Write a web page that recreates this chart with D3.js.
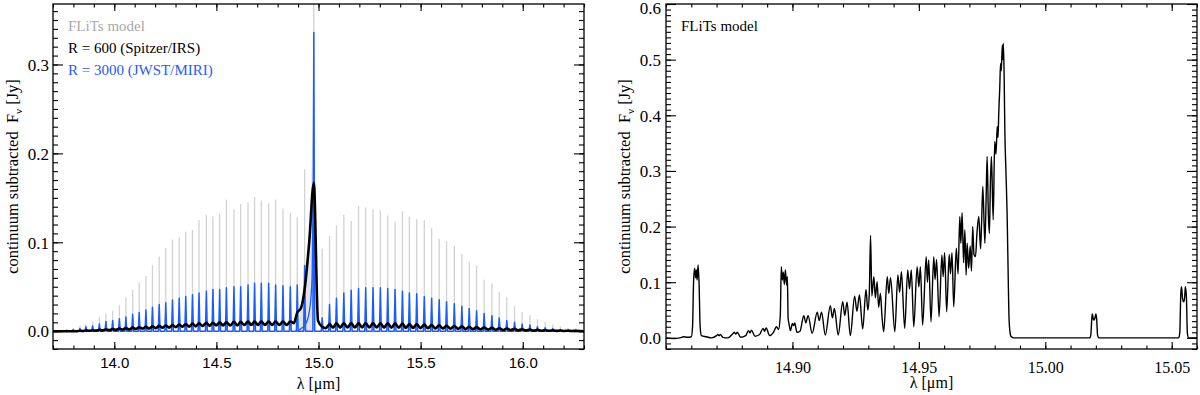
<!DOCTYPE html>
<html>
<head>
<meta charset="utf-8">
<script src="https://cdn.jsdelivr.net/npm/d3@7"></script>
<style>
  body { margin: 0; background: #fff; }
  svg { display: block; }
</style>
</head>
<body>
<svg id="fig" width="1200" height="395"></svg>
<script>
// ---- left panel: CO2 band, one entry per line (R branch, Q branch, P branch) ----
var lineWl = [
  13.734, 13.767, 13.799, 13.832, 13.861, 13.894, 13.927, 13.959, 13.992, 14.025,
  14.057, 14.090, 14.122, 14.155, 14.187, 14.220, 14.252, 14.285, 14.318, 14.350,
  14.383, 14.415, 14.451, 14.483, 14.516, 14.549, 14.586, 14.619, 14.655, 14.687,
  14.720, 14.756, 14.790, 14.826, 14.862, 14.896, 14.932,
  14.977,
  15.018, 15.054, 15.088, 15.124, 15.160, 15.196, 15.231, 15.267, 15.303, 15.339,
  15.375, 15.411, 15.445, 15.481, 15.518, 15.554, 15.591, 15.627, 15.665, 15.702,
  15.738, 15.774, 15.811, 15.849, 15.885, 15.922, 15.960, 15.997, 16.035, 16.072,
  16.110, 16.147, 16.184, 16.222, 16.260
];

// FLiTs model peak of each line (grey)
var modelPeak = [
  0.001, 0.002, 0.003, 0.006, 0.008, 0.011, 0.016, 0.020, 0.023, 0.029,
  0.038, 0.047, 0.055, 0.062, 0.074, 0.084, 0.094, 0.103, 0.106, 0.112,
  0.114, 0.125, 0.131, 0.129, 0.132, 0.148, 0.137, 0.143, 0.145, 0.151,
  0.147, 0.144, 0.148, 0.138, 0.133, 0.128, 0.182,
  0.400,
  0.093, 0.107, 0.119, 0.131, 0.124, 0.141, 0.139, 0.137, 0.136, 0.130,
  0.123, 0.135, 0.129, 0.126, 0.125, 0.116, 0.104, 0.101, 0.096, 0.087,
  0.078, 0.074, 0.058, 0.054, 0.044, 0.038, 0.028, 0.022, 0.018, 0.014,
  0.010, 0.0075, 0.0056, 0.004, 0.003
];

// R = 3000 (JWST/MIRI) peak of each line (blue)
var miriPeak = [
  0.000, 0.001, 0.002, 0.003, 0.005, 0.006, 0.008, 0.011, 0.012, 0.014,
  0.016, 0.019, 0.021, 0.024, 0.027, 0.030, 0.032, 0.035, 0.037, 0.039,
  0.041, 0.043, 0.045, 0.047, 0.047, 0.049, 0.050, 0.050, 0.052, 0.054,
  0.054, 0.054, 0.052, 0.051, 0.050, 0.052, 0.074,
  0.336,
  0.015, 0.030, 0.037, 0.043, 0.046, 0.048, 0.049, 0.049, 0.049, 0.048,
  0.047, 0.045, 0.043, 0.042, 0.039, 0.037, 0.0355, 0.033, 0.031, 0.028,
  0.0255, 0.023, 0.020, 0.0175, 0.015, 0.012, 0.010, 0.008, 0.007, 0.005,
  0.004, 0.003, 0.002, 0.0015, 0.001
];

// R = 600 (Spitzer/IRS) value at each line (black)
var irsPeak = [
  0, 0, 0, 0.0005, 0.0008, 0.001, 0.0015, 0.002, 0.0025, 0.003,
  0.0035, 0.004, 0.0045, 0.005, 0.0055, 0.006, 0.0065, 0.007, 0.0075, 0.008,
  0.0085, 0.009, 0.0095, 0.0095, 0.010, 0.010, 0.0105, 0.0105, 0.011, 0.011,
  0.011, 0.011, 0.011, 0.011, 0.011, 0.021, 0.047,
  0.167,
  0.005, 0.008, 0.009, 0.009, 0.0092, 0.0092, 0.0092, 0.0092, 0.009, 0.009,
  0.0088, 0.0085, 0.0082, 0.008, 0.0075, 0.007, 0.0066, 0.0062, 0.0058, 0.0054,
  0.005, 0.0046, 0.0042, 0.0038, 0.0034, 0.003, 0.0026, 0.0022, 0.0018, 0.0015,
  0.0012, 0.001, 0.0008, 0.0006, 0.0005
];

// R = 600 value half way between a line and the next one
var irsDip = [
  0, 0, 0, 0.0003, 0.0005, 0.0007, 0.001, 0.0012, 0.0015, 0.0018,
  0.002, 0.0025, 0.003, 0.003, 0.0035, 0.004, 0.004, 0.0045, 0.005, 0.005,
  0.0055, 0.006, 0.006, 0.0065, 0.0065, 0.0065, 0.0065, 0.007, 0.007, 0.007,
  0.007, 0.007, 0.007, 0.007, 0.009, 0.026, 0.100,
  0.012,
  0.0035, 0.004, 0.004, 0.0042, 0.0042, 0.0042, 0.0042, 0.0042, 0.004, 0.004,
  0.004, 0.0038, 0.0036, 0.0035, 0.0033, 0.0031, 0.003, 0.0028, 0.0026, 0.0024,
  0.0022, 0.002, 0.0018, 0.0016, 0.0014, 0.0012, 0.001, 0.0008, 0.0007, 0.0006,
  0.0005, 0.0004, 0.0003, 0.0002
];

// blended Q-branch lines of the model (grey shading)
var modelQBand = [
  [14.900, 0.000], [14.908, 0.024], [14.920, 0.032], [14.932, 0.047], [14.940, 0.060],
  [14.948, 0.083], [14.956, 0.110], [14.962, 0.140], [14.967, 0.190], [14.971, 0.230],
  [14.974, 0.300], [14.976, 0.370], [14.978, 0.370], [14.980, 0.120], [14.982, 0.000]
];

// rising MIRI continuum under the Q branch
var miriQWing = [
  [14.895, 0.000], [14.915, 0.003], [14.930, 0.006], [14.945, 0.012], [14.955, 0.022],
  [14.963, 0.038], [14.969, 0.065], [14.974, 0.160]
];

// ---- right panel: FLiTs model around the Q branch, [wavelength, flux] ----
var flitsZoom = [
  [14.8500, 0.000], [14.8530, -0.001], [14.8555, 0.000], [14.8570, 0.002], [14.8585, 0.001],
  [14.8600, 0.002], [14.8605, 0.020], [14.8609, 0.100], [14.8613, 0.125], [14.8617, 0.108],
  [14.8620, 0.122], [14.8623, 0.104], [14.8627, 0.131], [14.8631, 0.095], [14.8635, 0.020],
  [14.8640, 0.004], [14.8660, 0.002], [14.8680, 0.000], [14.8700, 0.004], [14.8705, 0.006],
  [14.8710, 0.004], [14.8715, 0.006], [14.8725, 0.001], [14.8745, 0.000], [14.8765, 0.008],
  [14.8770, 0.010], [14.8776, 0.007], [14.8782, 0.010], [14.8795, 0.001], [14.8815, 0.004],
  [14.8826, 0.013], [14.8832, 0.009], [14.8838, 0.014], [14.8852, 0.003], [14.8870, 0.006],
  [14.8884, 0.017], [14.8890, 0.012], [14.8896, 0.018], [14.8910, 0.004], [14.8925, 0.010],
  [14.8937, 0.020], [14.8945, 0.015], [14.8952, 0.040], [14.8956, 0.128], [14.8960, 0.104],
  [14.8964, 0.118], [14.8968, 0.096], [14.8972, 0.122], [14.8977, 0.095], [14.8980, 0.110],
  [14.8983, 0.035], [14.8987, 0.024], [14.8992, 0.013], [14.9000, 0.026], [14.9005, 0.022],
  [14.9009, 0.027], [14.9018, 0.010], [14.9030, 0.012], [14.9045, 0.040], [14.9053, 0.027],
  [14.9062, 0.040], [14.9078, 0.008], [14.9098, 0.046], [14.9106, 0.031], [14.9115, 0.046],
  [14.9130, 0.005], [14.9150, 0.058], [14.9158, 0.036], [14.9166, 0.053], [14.9181, 0.005],
  [14.9199, 0.065], [14.9207, 0.040], [14.9216, 0.064], [14.9229, 0.004], [14.9246, 0.075],
  [14.9255, 0.048], [14.9265, 0.077], [14.9278, 0.016], [14.9291, 0.087], [14.9298, 0.050],
  [14.9304, 0.080], [14.9309, 0.184], [14.9314, 0.075], [14.9322, 0.110], [14.9328, 0.072],
  [14.9335, 0.101], [14.9341, 0.055], [14.9348, 0.080], [14.9354, 0.040], [14.9361, 0.011],
  [14.9375, 0.110], [14.9381, 0.080], [14.9388, 0.108], [14.9405, 0.011], [14.9417, 0.113],
  [14.9424, 0.082], [14.9431, 0.119], [14.9444, 0.017], [14.9456, 0.122], [14.9463, 0.088],
  [14.9470, 0.122], [14.9480, 0.020], [14.9493, 0.128], [14.9500, 0.092], [14.9506, 0.128],
  [14.9515, 0.023], [14.9529, 0.146], [14.9534, 0.100], [14.9539, 0.140], [14.9548, 0.029],
  [14.9559, 0.146], [14.9564, 0.105], [14.9570, 0.141], [14.9580, 0.038], [14.9591, 0.149],
  [14.9596, 0.110], [14.9602, 0.153], [14.9610, 0.047], [14.9620, 0.150], [14.9625, 0.115],
  [14.9631, 0.153], [14.9638, 0.056], [14.9648, 0.161], [14.9655, 0.115], [14.9662, 0.218],
  [14.9666, 0.170], [14.9671, 0.225], [14.9677, 0.135], [14.9682, 0.194], [14.9687, 0.113],
  [14.9691, 0.170], [14.9697, 0.125], [14.9703, 0.165], [14.9708, 0.120], [14.9713, 0.200],
  [14.9718, 0.150], [14.9724, 0.146], [14.9730, 0.190], [14.9737, 0.218], [14.9744, 0.160],
  [14.9748, 0.205], [14.9753, 0.272], [14.9761, 0.170], [14.9766, 0.250], [14.9770, 0.326],
  [14.9775, 0.220], [14.9779, 0.188], [14.9783, 0.280], [14.9787, 0.326], [14.9794, 0.212],
  [14.9800, 0.353], [14.9805, 0.330], [14.9810, 0.380], [14.9813, 0.360], [14.9816, 0.404],
  [14.9820, 0.450], [14.9823, 0.493], [14.9826, 0.480], [14.9830, 0.526], [14.9832, 0.500],
  [14.9834, 0.529], [14.9837, 0.480], [14.9840, 0.374], [14.9845, 0.290], [14.9849, 0.224],
  [14.9853, 0.120], [14.9856, 0.044], [14.9860, 0.012], [14.9864, 0.003], [14.9876, 0.000],
  [15.0000, 0.000], [15.0176, 0.000], [15.0180, 0.005], [15.0184, 0.035], [15.0186, 0.043],
  [15.0190, 0.034], [15.0193, 0.032], [15.0196, 0.035], [15.0200, 0.043], [15.0203, 0.035],
  [15.0207, 0.004], [15.0212, 0.000], [15.0528, 0.000], [15.0532, 0.010], [15.0536, 0.080],
  [15.0539, 0.092], [15.0543, 0.070], [15.0547, 0.065], [15.0551, 0.072], [15.0554, 0.092],
  [15.0558, 0.075], [15.0562, 0.008], [15.0567, 0.000], [15.0600, 0.000]
];

// axis ranges and ticks
var leftXRange = [13.7, 16.3];
var leftYRange = [-0.02, 0.368];
var leftXTicks = [14.0, 14.5, 15.0, 15.5, 16.0];
var leftYTicks = [0.0, 0.1, 0.2, 0.3];
var rightXRange = [14.85, 15.06];
var rightYRange = [-0.02, 0.6];
var rightXTicks = [14.90, 14.95, 15.00, 15.05];
var rightYTicks = [0.0, 0.1, 0.2, 0.3, 0.4, 0.5, 0.6];

var legendItems = [
  { text: 'FLiTs model', color: '#aaaaaa' },
  { text: 'R = 600 (Spitzer/IRS)', color: '#000000' },
  { text: 'R = 3000 (JWST/MIRI)', color: '#1a5cff' }
];

var SERIF = 'Liberation Serif';
var SANS = 'Liberation Sans';

var svg = d3.select('#fig');
svg.append('rect').attr('width', 1200).attr('height', 395).attr('fill', '#fff');

// minor tick positions between the ends of a range
function minorTicks(range, step) {
  var start = Math.ceil(range[0] / step - 1e-6) * step;
  return d3.range(start, range[1] + step / 2, step).filter(function (v) { return v <= range[1] + 1e-9; });
}

// IDL style box: ticks inward on all four sides
function drawFrame(x, y, o) {
  var xr = x.range(), yr = y.range();
  var g = svg.append('g').attr('class', 'frame');

  function ax(gen, tr, vals, len, fmt) {
    var a = g.append('g').attr('transform', tr)
      .call(gen.tickValues(vals).tickSize(-len).tickFormat(fmt || ''));
    a.select('.domain').remove();
    a.selectAll('line').attr('stroke', '#000').attr('stroke-width', 1.1);
    return a;
  }
  var xMinor = minorTicks(x.domain(), o.xMinor);
  var yMinor = minorTicks(y.domain(), o.yMinor);

  ax(d3.axisBottom(x), 'translate(0,' + yr[0] + ')', xMinor, 3.5);
  ax(d3.axisTop(x), 'translate(0,' + yr[1] + ')', xMinor, 3.5);
  ax(d3.axisLeft(y), 'translate(' + xr[0] + ',0)', yMinor, 5);
  ax(d3.axisRight(y), 'translate(' + xr[1] + ',0)', yMinor, 5);
  ax(d3.axisTop(x), 'translate(0,' + yr[1] + ')', o.xTicks, 7);
  ax(d3.axisRight(y), 'translate(' + xr[1] + ',0)', o.yTicks, 10);

  var bx = ax(d3.axisBottom(x), 'translate(0,' + yr[0] + ')', o.xTicks, 7, d3.format(o.xFmt));
  bx.attr('font-family', o.xFont).attr('font-size', o.xFontSize);
  bx.selectAll('text')
    .attr('y', o.xLabelY).attr('dy', null).attr('fill', '#000');

  var ly = ax(d3.axisLeft(y), 'translate(' + xr[0] + ',0)', o.yTicks, 10, d3.format('.1f'));
  ly.attr('font-family', SERIF).attr('font-size', 17);
  ly.selectAll('text')
    .attr('x', -o.yLabelGap).attr('fill', '#000')
    .attr('dy', function (d) { return y(d) - yr[1] < 6 ? '0.58em' : '0.34em'; });

  g.append('rect')
    .attr('x', xr[0]).attr('y', yr[1])
    .attr('width', xr[1] - xr[0]).attr('height', yr[0] - yr[1])
    .attr('fill', 'none').attr('stroke', '#000').attr('stroke-width', 1.3);

  // axis titles
  var cx = (xr[0] + xr[1]) / 2, cy = (yr[0] + yr[1]) / 2;
  svg.append('text')
    .attr('x', cx).attr('y', o.xTitleY)
    .attr('text-anchor', 'middle')
    .attr('font-family', SERIF).attr('font-size', 16)
    .text('\u03bb [\u03bcm]');

  var t = svg.append('text')
    .attr('transform', 'translate(' + o.yTitleX + ',' + cy + ') rotate(-90)')
    .attr('text-anchor', 'middle')
    .attr('font-family', SERIF).attr('font-size', 16.5)
    .attr('xml:space', 'preserve')
    .style('white-space', 'pre');
  t.append('tspan').text('continuum subtracted  F');
  t.append('tspan').attr('dy', 4).attr('font-size', 11).text('\u03bd');
  t.append('tspan').attr('dy', -4).text(' [Jy]');
}

function clipTo(id, x, y) {
  var xr = x.range(), yr = y.range();
  svg.append('clipPath').attr('id', id).append('rect')
    .attr('x', xr[0]).attr('y', yr[1])
    .attr('width', xr[1] - xr[0]).attr('height', yr[0] - yr[1]);
  return svg.append('g').attr('clip-path', 'url(#' + id + ')');
}

// ================= left panel =================
var xL = d3.scaleLinear().domain(leftXRange).range([53, 584]);
var yL = d3.scaleLinear().domain(leftYRange).range([349, 4]);
var gL = clipTo('clipL', xL, yL);

var lines = lineWl.map(function (w, i) {
  return { wl: w, model: modelPeak[i], miri: miriPeak[i], irs: irsPeak[i], dip: irsDip[i] };
});

// FLiTs model: unresolved lines
gL.append('path')
  .datum(modelQBand)
  .attr('fill', '#e3e3e3')
  .attr('d', d3.area().x(function (d) { return xL(d[0]); }).y0(yL(0)).y1(function (d) { return yL(d[1]); }));

gL.selectAll('line.model')
  .data(lines)
  .enter().append('line')
  .attr('class', 'model')
  .attr('x1', function (d) { return xL(d.wl); })
  .attr('x2', function (d) { return xL(d.wl); })
  .attr('y1', yL(0))
  .attr('y2', function (d) { return yL(d.model); })
  .attr('stroke', '#d2d2d2')
  .attr('stroke-width', 1.3);

// R = 3000: narrow spikes on a flat baseline
var halfWidth = 0.0045;
var miriPts = [[leftXRange[0], 0]];
lines.forEach(function (d) {
  miriPts.push([d.wl - halfWidth, 0], [d.wl, d.miri], [d.wl + halfWidth, 0]);
});
miriPts.push([leftXRange[1], 0]);

var lineL = d3.line().x(function (d) { return xL(d[0]); }).y(function (d) { return yL(d[1]); });

gL.append('path')
  .datum(miriPts)
  .attr('fill', 'none').attr('stroke', '#1a5cff').attr('stroke-width', 1.5)
  .attr('stroke-linejoin', 'round')
  .attr('d', lineL);

gL.append('path')
  .datum(miriQWing)
  .attr('fill', 'none').attr('stroke', '#1a5cff').attr('stroke-width', 1.3)
  .attr('d', lineL.curve(d3.curveMonotoneX));

// R = 600: smooth ripple
var irsPts = [[leftXRange[0], 0]];
lines.forEach(function (d, i) {
  irsPts.push([d.wl, d.irs]);
  if (i < lines.length - 1) irsPts.push([(d.wl + lines[i + 1].wl) / 2, d.dip]);
});
irsPts.push([leftXRange[1], 0]);

gL.append('path')
  .datum(irsPts)
  .attr('fill', 'none').attr('stroke', '#000').attr('stroke-width', 2.6)
  .attr('stroke-linejoin', 'round')
  .attr('d', d3.line().curve(d3.curveMonotoneX)
    .x(function (d) { return xL(d[0]); }).y(function (d) { return yL(d[1]); }));

drawFrame(xL, yL, {
  xTicks: leftXTicks, yTicks: leftYTicks, xMinor: 0.1, yMinor: 0.01,
  xFmt: '.1f', xFont: SANS, xFontSize: 15, xLabelY: 19,
  yLabelGap: 4, xTitleY: 389, yTitleX: 18
});

svg.selectAll('text.legend')
  .data(legendItems)
  .enter().append('text')
  .attr('class', 'legend')
  .attr('x', 68)
  .attr('y', function (d, i) { return 31 + i * 22; })
  .attr('fill', function (d) { return d.color; })
  .attr('font-family', SERIF).attr('font-size', 15)
  .text(function (d) { return d.text; });

// ================= right panel =================
var xR = d3.scaleLinear().domain(rightXRange).range([666, 1197]);
var yR = d3.scaleLinear().domain(rightYRange).range([349, 4]);
var gR = clipTo('clipR', xR, yR);

gR.append('path')
  .datum(flitsZoom)
  .attr('fill', 'none').attr('stroke', '#000').attr('stroke-width', 1.4)
  .attr('stroke-linejoin', 'round')
  .attr('d', d3.line().curve(d3.curveMonotoneX)
    .x(function (d) { return xR(d[0]); }).y(function (d) { return yR(d[1]); }));

drawFrame(xR, yR, {
  xTicks: rightXTicks, yTicks: rightYTicks, xMinor: 0.01, yMinor: 0.01,
  xFmt: '.2f', xFont: SERIF, xFontSize: 16, xLabelY: 24,
  yLabelGap: 5, xTitleY: 388, yTitleX: 630
});

svg.append('text')
  .attr('x', 681).attr('y', 31)
  .attr('font-family', SERIF).attr('font-size', 15)
  .text(legendItems[0].text);
</script>
</body>
</html>
